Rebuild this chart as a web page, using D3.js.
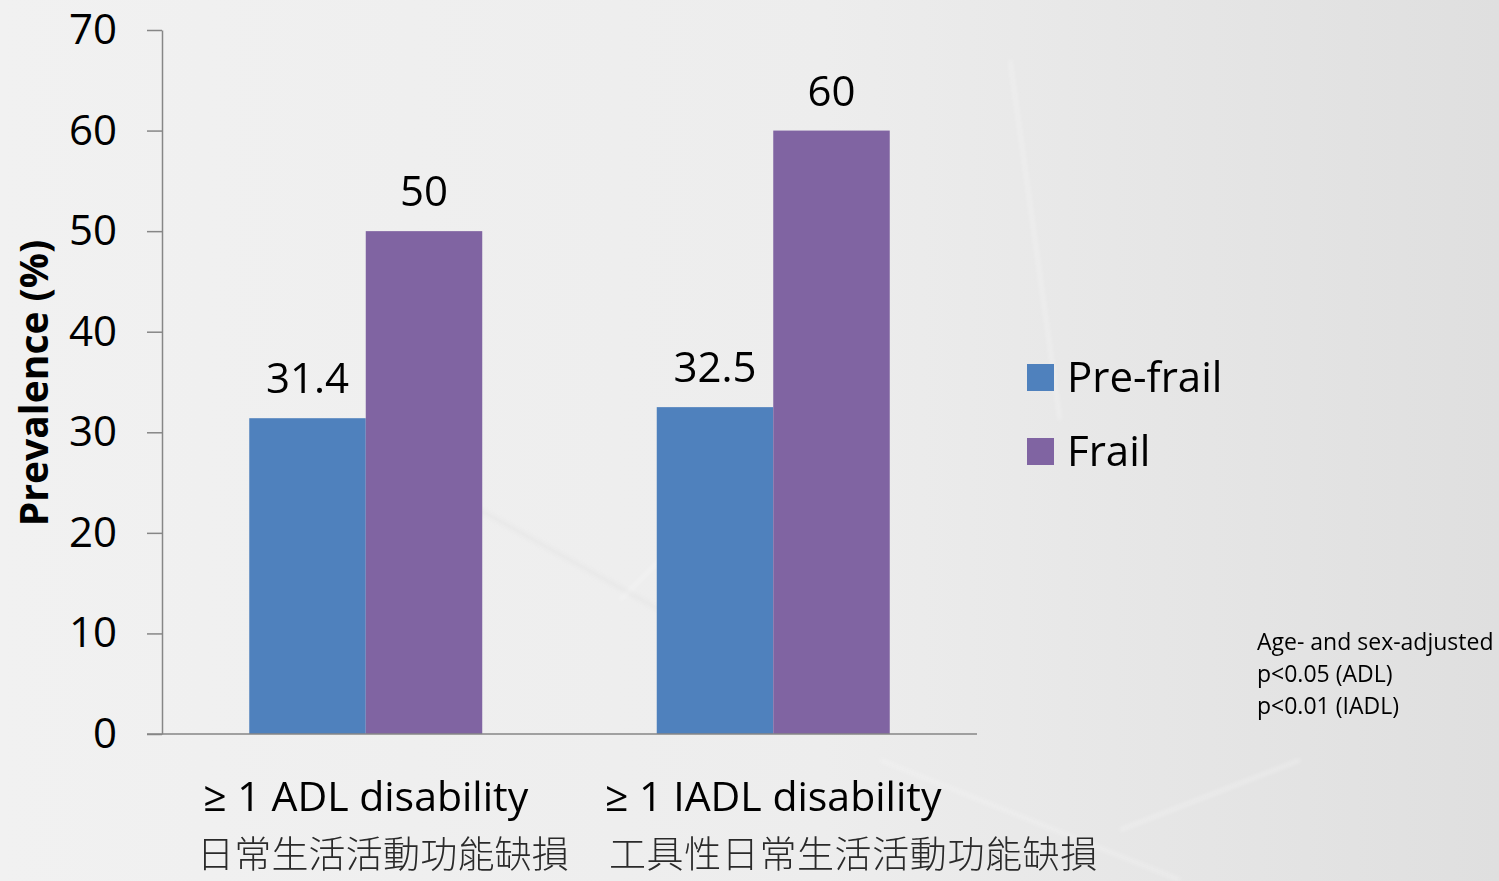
<!DOCTYPE html>
<html>
<head>
<meta charset="utf-8">
<script src="https://cdn.jsdelivr.net/npm/d3@7"></script>
<style>
  html, body { margin: 0; padding: 0; background: #ececec; }
  svg { display: block; }
</style>
</head>
<body>
<svg id="chart" width="1499" height="881"></svg>
<script>
// Disability prevalence by frailty status
const categories = ["≥ 1 ADL disability", "≥ 1 IADL disability"];
const categoriesZh = ["日常生活活動功能缺損", "工具性日常生活活動功能缺損"];
const seriesNames = ["Pre-frail", "Frail"];
const preFrail = [31.4, 32.5];
const frail = [50, 60];
const yTicks = [0, 10, 20, 30, 40, 50, 60, 70];
const notes = ["Age- and sex-adjusted", "p<0.05 (ADL)", "p<0.01 (IADL)"];

const colors = ["#4f81bd", "#8064a2"];
const latin = "'Open Sans', 'Noto Sans', sans-serif";
const cjk = "'Noto Sans CJK TC', 'Noto Sans CJK SC', sans-serif";

const W = 1499, H = 881;
const plot = { left: 162, right: 977, top: 30, bottom: 734 };

const svg = d3.select("#chart");

// Soft grey backdrop, slightly darker toward the right
const defs = svg.append("defs");
const bg = defs.append("linearGradient").attr("id", "bg").attr("x1", 0).attr("x2", 1).attr("y1", 0).attr("y2", 0);
bg.append("stop").attr("offset", "0%").attr("stop-color", "#f1f1f1");
bg.append("stop").attr("offset", "55%").attr("stop-color", "#ededed");
bg.append("stop").attr("offset", "100%").attr("stop-color", "#dfdfdf");
svg.append("rect").attr("width", W).attr("height", H).attr("fill", "url(#bg)");

const blur = defs.append("filter").attr("id", "soft").attr("x", "-10%").attr("y", "-10%").attr("width", "120%").attr("height", "120%");
blur.append("feGaussianBlur").attr("stdDeviation", 2);

// faint decorative streaks in the backdrop
const streaks = [
  [[1010, 60], [1060, 420]],
  [[480, 510], [660, 610]],
  [[620, 600], [760, 460]],
  [[880, 760], [1180, 880]],
  [[1120, 830], [1300, 760]]
];
svg.append("g").attr("filter", "url(#soft)")
  .selectAll("line").data(streaks).join("line")
  .attr("x1", d => d[0][0]).attr("y1", d => d[0][1])
  .attr("x2", d => d[1][0]).attr("y2", d => d[1][1])
  .attr("stroke", (d, i) => i === 1 ? "#d6d6d6" : "#fbfbfb")
  .attr("stroke-width", 3)
  .attr("opacity", 0.35);

const x0 = d3.scaleBand().domain(categories).range([plot.left, plot.right]).padding(0);
const x1 = d3.scaleBand().domain(seriesNames).range([0, x0.bandwidth()]).paddingInner(0).paddingOuter(0.749);
const y = d3.scaleLinear().domain([0, 70]).range([plot.bottom, plot.top]);

// y axis
const yAxis = svg.append("g")
  .attr("transform", `translate(${plot.left},0)`)
  .call(d3.axisLeft(y).tickValues(yTicks).tickSize(15).tickPadding(30).tickSizeOuter(0));
yAxis.select(".domain").attr("stroke", "#868686").attr("stroke-width", 1.5);
yAxis.selectAll(".tick line").attr("stroke", "#868686").attr("stroke-width", 1.5);
yAxis.selectAll(".tick text")
  .attr("font-family", latin).attr("font-size", 42).attr("fill", "#000");

// bars
const rows = categories.map((c, i) => ({ cat: c, values: [preFrail[i], frail[i]] }));
const groups = svg.append("g").selectAll("g").data(rows).join("g")
  .attr("transform", d => `translate(${x0(d.cat)},0)`);
const cells = groups.selectAll("g").data(d => d.values.map((v, j) => ({ name: seriesNames[j], v, j }))).join("g");
cells.append("rect")
  .attr("x", d => x1(d.name))
  .attr("width", x1.bandwidth())
  .attr("y", d => y(d.v))
  .attr("height", d => y(0) - y(d.v))
  .attr("fill", d => colors[d.j]);
cells.append("text")
  .attr("x", d => x1(d.name) + x1.bandwidth() / 2)
  .attr("y", d => y(d.v) - 25)
  .attr("text-anchor", "middle")
  .attr("font-family", latin).attr("font-size", 42).attr("fill", "#000")
  .text(d => d.v);

// x axis line
svg.append("line")
  .attr("x1", plot.left - 15).attr("x2", plot.right)
  .attr("y1", y(0)).attr("y2", y(0))
  .attr("stroke", "#868686").attr("stroke-width", 1.5);

// category labels
svg.append("g").selectAll("text").data(categories).join("text")
  .attr("x", d => x0(d) + x0.bandwidth() / 2)
  .attr("y", 811)
  .attr("text-anchor", "middle")
  .attr("font-family", latin).attr("font-size", 41).attr("fill", "#000")
  .text(d => d);
const zhOffset = [35, 447];
svg.append("g").selectAll("text").data(categoriesZh).join("text")
  .attr("x", (d, i) => plot.left + zhOffset[i])
  .attr("y", 868)
  .attr("font-family", cjk).attr("font-size", 37).attr("font-weight", 300)
  .attr("letter-spacing", (d, i) => i === 1 ? 0.6 : 0.2)
  .attr("fill", "#2a2a2a")
  .text(d => d);

// y axis title
svg.append("text")
  .attr("transform", `translate(48,383) rotate(-90)`)
  .attr("text-anchor", "middle")
  .attr("font-family", latin).attr("font-size", 39).attr("font-weight", 700).attr("fill", "#000")
  .text("Prevalence (%)");

// legend
const legend = svg.append("g").attr("transform", "translate(1027,364)")
  .selectAll("g").data(seriesNames).join("g")
  .attr("transform", (d, i) => `translate(0,${i * 74})`);
legend.append("rect").attr("width", 27).attr("height", 27).attr("fill", (d, i) => colors[i]);
legend.append("text").attr("x", 40).attr("y", 28)
  .attr("font-family", latin).attr("font-size", 42).attr("fill", "#000")
  .text(d => d);

// significance note
svg.append("g").selectAll("text").data(notes).join("text")
  .attr("x", 1257).attr("y", (d, i) => 650 + i * 32)
  .attr("font-family", latin).attr("font-size", 23).attr("fill", "#000")
  .text(d => d);
</script>
</body>
</html>
